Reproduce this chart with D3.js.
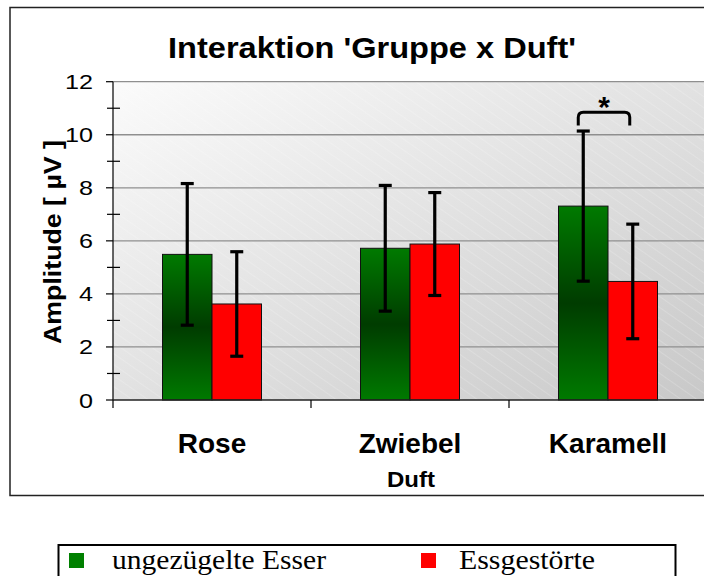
<!DOCTYPE html>
<html>
<head>
<meta charset="utf-8">
<script src="https://cdn.jsdelivr.net/npm/d3@7/dist/d3.min.js"></script>
<style>
  html, body { margin: 0; padding: 0; background: #fff; }
  svg { display: block; }
</style>
</head>
<body>
<svg id="chart" width="704" height="576"></svg>
<script>
// Mean amplitudes and standard deviations per odour and group
const categories = ["Rose", "Zwiebel", "Karamell"];
const groups = ["ungezügelte Esser", "Essgestörte"];
const meanEsser = [5.49, 5.72, 7.31];
const meanGestoert = [3.62, 5.88, 4.47];
const sdEsser = [2.67, 2.37, 2.83];
const sdGestoert = [1.97, 1.94, 2.16];
const yTicks = [0, 2, 4, 6, 8, 10, 12];
const yMinorTicks = [1, 3, 5, 7, 9, 11];

const rows = categories.map((c, i) => ({
  cat: c,
  vals: [
    { g: groups[0], mean: meanEsser[i], sd: sdEsser[i] },
    { g: groups[1], mean: meanGestoert[i], sd: sdGestoert[i] }
  ]
}));

const svg = d3.select("#chart");
const defs = svg.append("defs");
const sans = "'Liberation Sans', Arial, sans-serif";

// plot background: light diagonal gradient with faint hatching
const bg = defs.append("linearGradient").attr("id", "bgGrad")
  .attr("x1", "0%").attr("y1", "0%").attr("x2", "100%").attr("y2", "100%");
bg.append("stop").attr("offset", "0%").attr("stop-color", "#fbfbfb");
bg.append("stop").attr("offset", "100%").attr("stop-color", "#c8c8c8");

const hatch = defs.append("pattern").attr("id", "hatch")
  .attr("patternUnits", "userSpaceOnUse").attr("width", 9).attr("height", 9)
  .attr("patternTransform", "rotate(-55)");
hatch.append("line").attr("x1", 0).attr("y1", 0).attr("x2", 0).attr("y2", 9)
  .attr("stroke", "#ffffff").attr("stroke-width", 0.8).attr("stroke-opacity", 0.45);

// green bars: bright at edges, dark in the middle
const gg = defs.append("linearGradient").attr("id", "greenGrad")
  .attr("x1", "0%").attr("y1", "0%").attr("x2", "0%").attr("y2", "100%");
gg.append("stop").attr("offset", "0%").attr("stop-color", "#007a00");
gg.append("stop").attr("offset", "50%").attr("stop-color", "#003c00");
gg.append("stop").attr("offset", "100%").attr("stop-color", "#007a00");

const fills = { [groups[0]]: "url(#greenGrad)", [groups[1]]: "#ff0000" };
const legendFills = { [groups[0]]: "#008000", [groups[1]]: "#ff0000" };

// outer chart frame
svg.append("rect").attr("x", 10).attr("y", 7.5).attr("width", 720).attr("height", 488)
  .attr("fill", "#fff").attr("stroke", "#222").attr("stroke-width", 1.5);

const plotLeft = 113, plotRight = 707, plotTop = 81.7, plotBottom = 400;

const x = d3.scaleBand().domain(categories).range([plotLeft, plotRight]).padding(0);
const xSub = d3.scaleBand().domain(groups)
  .range([x.bandwidth() * 0.25, x.bandwidth() * 0.75]).padding(0);
const y = d3.scaleLinear().domain([0, 12]).range([plotBottom, plotTop]);

// background
svg.append("rect").attr("x", plotLeft).attr("y", plotTop)
  .attr("width", plotRight - plotLeft).attr("height", plotBottom - plotTop)
  .attr("fill", "url(#bgGrad)");
svg.append("rect").attr("x", plotLeft).attr("y", plotTop)
  .attr("width", plotRight - plotLeft).attr("height", plotBottom - plotTop)
  .attr("fill", "url(#hatch)");

// horizontal gridlines
svg.append("g").selectAll("line").data(yTicks.filter(d => d > 0)).join("line")
  .attr("x1", plotLeft).attr("x2", plotRight)
  .attr("y1", d => y(d)).attr("y2", d => y(d))
  .attr("stroke", "#8f8f8f").attr("stroke-width", 1.3);

// bars
const groupSel = svg.append("g").selectAll("g").data(rows).join("g")
  .attr("transform", d => `translate(${x(d.cat)},0)`);

groupSel.selectAll("rect").data(d => d.vals).join("rect")
  .attr("x", d => xSub(d.g))
  .attr("y", d => y(d.mean))
  .attr("width", xSub.bandwidth())
  .attr("height", d => y(0) - y(d.mean))
  .attr("fill", d => fills[d.g])
  .attr("stroke", "#111").attr("stroke-width", 1);

// error bars (mean ± SD)
const eb = groupSel.selectAll("g.err").data(d => d.vals).join("g").attr("class", "err")
  .attr("transform", d => `translate(${xSub(d.g) + xSub.bandwidth() / 2},0)`);
eb.append("line").attr("x1", 0).attr("x2", 0)
  .attr("y1", d => y(d.mean + d.sd)).attr("y2", d => y(d.mean - d.sd))
  .attr("stroke", "#000").attr("stroke-width", 3.2);
eb.append("line").attr("x1", -6.5).attr("x2", 6.5)
  .attr("y1", d => y(d.mean + d.sd)).attr("y2", d => y(d.mean + d.sd))
  .attr("stroke", "#000").attr("stroke-width", 3.2);
eb.append("line").attr("x1", -6.5).attr("x2", 6.5)
  .attr("y1", d => y(d.mean - d.sd)).attr("y2", d => y(d.mean - d.sd))
  .attr("stroke", "#000").attr("stroke-width", 3.2);

// y axis
const yAxisG = svg.append("g").attr("transform", `translate(${plotLeft},0)`);
yAxisG.append("line").attr("x1", 0).attr("x2", 0).attr("y1", plotTop).attr("y2", plotBottom)
  .attr("stroke", "#000").attr("stroke-width", 1.2);
yAxisG.selectAll("line.major").data(yTicks).join("line").attr("class", "major")
  .attr("x1", -7).attr("x2", 0).attr("y1", d => y(d)).attr("y2", d => y(d))
  .attr("stroke", "#000").attr("stroke-width", 1.2);
yAxisG.selectAll("line.minor").data(yMinorTicks).join("line").attr("class", "minor")
  .attr("x1", -6).attr("x2", 7).attr("y1", d => y(d)).attr("y2", d => y(d))
  .attr("stroke", "#000").attr("stroke-width", 1.2);
yAxisG.selectAll("text").data(yTicks).join("text")
  .attr("x", -20).attr("y", d => y(d) + 7.5)
  .attr("text-anchor", "end")
  .attr("font-family", sans)
  .attr("font-size", 21)
  .attr("textLength", d => String(d).length * 14)
  .attr("lengthAdjust", "spacingAndGlyphs")
  .text(d => d);

// x axis
const xAxisG = svg.append("g");
xAxisG.append("line").attr("x1", plotLeft).attr("x2", plotRight)
  .attr("y1", plotBottom).attr("y2", plotBottom)
  .attr("stroke", "#222").attr("stroke-width", 1.5);
xAxisG.selectAll("line.tick").data(categories).join("line").attr("class", "tick")
  .attr("x1", d => x(d)).attr("x2", d => x(d))
  .attr("y1", plotBottom).attr("y2", plotBottom + 8)
  .attr("stroke", "#000").attr("stroke-width", 1.2);
xAxisG.selectAll("text").data(categories).join("text")
  .attr("x", d => x(d) + x.bandwidth() / 2).attr("y", 453)
  .attr("text-anchor", "middle")
  .attr("font-family", sans)
  .attr("font-weight", "bold").attr("font-size", 28)
  .text(d => d);

svg.append("text").attr("x", 411).attr("y", 487).attr("text-anchor", "middle")
  .attr("font-family", sans)
  .attr("font-weight", "bold").attr("font-size", 22)
  .attr("textLength", 48).attr("lengthAdjust", "spacingAndGlyphs")
  .text("Duft");

// y axis title
svg.append("text")
  .attr("transform", "translate(61,242) rotate(-90)")
  .attr("text-anchor", "middle")
  .attr("font-family", sans)
  .attr("font-weight", "bold").attr("font-size", 23)
  .attr("textLength", 204).attr("lengthAdjust", "spacingAndGlyphs")
  .text("Amplitude [ µV ]");

// title
svg.append("text").attr("x", 372).attr("y", 58).attr("text-anchor", "middle")
  .attr("font-family", sans)
  .attr("font-weight", "bold").attr("font-size", 30)
  .attr("textLength", 408).attr("lengthAdjust", "spacingAndGlyphs")
  .text("Interaktion 'Gruppe x Duft'");

// significance bracket between the two Karamell bars
const kx = x("Karamell");
const bx1 = kx + xSub(groups[0]) + xSub.bandwidth() / 2 - 5;
const bx2 = kx + xSub(groups[1]) + xSub.bandwidth() / 2 - 3;
const byTop = y(10.85), byEnd = y(10.35), r = 5;
svg.append("path")
  .attr("d", `M${bx1},${byEnd} L${bx1},${byTop + r} Q${bx1},${byTop} ${bx1 + r},${byTop}
              L${bx2 - r},${byTop} Q${bx2},${byTop} ${bx2},${byTop + r} L${bx2},${byEnd}`)
  .attr("fill", "none").attr("stroke", "#000").attr("stroke-width", 3);
svg.append("text").attr("x", (bx1 + bx2) / 2).attr("y", y(10.85) + 5)
  .attr("text-anchor", "middle")
  .attr("font-family", sans)
  .attr("font-weight", "bold").attr("font-size", 30)
  .text("*");

// legend
const lg = svg.append("g");
lg.append("rect").attr("x", 58.5).attr("y", 545).attr("width", 617).attr("height", 60)
  .attr("fill", "#fff").attr("stroke", "#000").attr("stroke-width", 2);
const legendX = [69, 421];
const legendTextX = [112, 459];
const legendTextW = [214, 136];
groups.forEach((g, i) => {
  lg.append("rect").attr("x", legendX[i]).attr("y", 553).attr("width", 15).attr("height", 15)
    .attr("fill", legendFills[g]);
  lg.append("text").attr("x", legendTextX[i]).attr("y", 568.5)
    .attr("font-family", "'Liberation Serif', 'Times New Roman', serif")
    .attr("font-size", 28)
    .attr("textLength", legendTextW[i]).attr("lengthAdjust", "spacingAndGlyphs")
    .text(g);
});
</script>
</body>
</html>
